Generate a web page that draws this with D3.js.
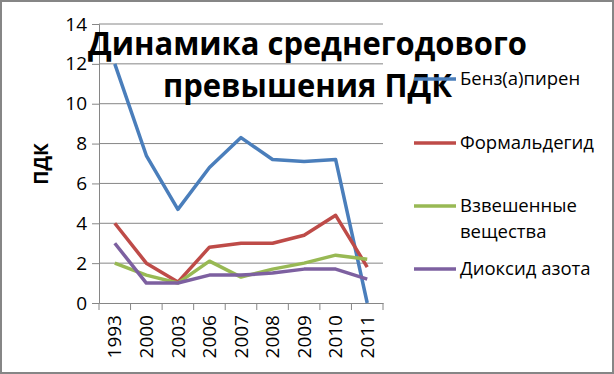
<!DOCTYPE html>
<html>
<head>
<meta charset="utf-8">
<script src="https://cdn.jsdelivr.net/npm/d3@7"></script>
<style>
  html, body { margin: 0; padding: 0; background: #fff; }
  svg { display: block; }
  text { font-family: "Open Sans", "Liberation Sans", sans-serif; }
</style>
</head>
<body>
<div id="chart"></div>
<script>
(function () {
  'use strict';

  var years = ['1993', '2000', '2003', '2006', '2007', '2008', '2009', '2010', '2011'];
  var benzapiren = [12, 7.4, 4.7, 6.8, 8.3, 7.2, 7.1, 7.2, 0];
  var formaldegid = [4, 2, 1.05, 2.8, 3, 3, 3.4, 4.4, 1.8];
  var vzveshennye = [2, 1.4, 1, 2.1, 1.3, 1.7, 2, 2.4, 2.2];
  var dioksid = [3, 1, 1, 1.4, 1.4, 1.5, 1.7, 1.7, 1.2];
  var yTicks = [0, 2, 4, 6, 8, 10, 12, 14];

  var series = [
    { name: ['Бенз(а)пирен'], values: benzapiren, color: '#4a7ebb', ly: 79 },
    { name: ['Формальдегид'], values: formaldegid, color: '#be4b48', ly: 143 },
    { name: ['Взвешенные', 'вещества'], values: vzveshennye, color: '#98b954', ly: 206 },
    { name: ['Диоксид азота'], values: dioksid, color: '#7d60a0', ly: 269 }
  ];

  var W = 614, H = 374;
  var plot = { left: 99, right: 383, top: 24, bottom: 303 };

  var svg = d3.select('#chart')
      .append('svg')
      .attr('width', W)
      .attr('height', H);

  svg.append('rect')
     .attr('x', 1).attr('y', 1)
     .attr('width', W - 2).attr('height', H - 2)
     .attr('fill', '#fff')
     .attr('stroke', '#868686')
     .attr('stroke-width', 2);

  var x = d3.scaleBand().domain(years).range([plot.left, plot.right]);
  var y = d3.scaleLinear().domain([0, 14]).range([plot.bottom, plot.top]);

  // gridlines
  svg.append('g')
     .selectAll('line')
     .data(yTicks.filter(function (d) { return d > 0; }))
     .enter()
     .append('line')
     .attr('x1', plot.left).attr('x2', plot.right)
     .attr('y1', function (d) { return y(d); })
     .attr('y2', function (d) { return y(d); })
     .attr('stroke', '#868686')
     .attr('stroke-width', 1);

  var yAxis = svg.append('g')
     .attr('transform', 'translate(' + plot.left + ',0)')
     .call(d3.axisLeft(y).tickValues(yTicks).tickSize(7).tickPadding(5));

  var xAxis = svg.append('g')
     .attr('transform', 'translate(0,' + plot.bottom + ')')
     .call(d3.axisBottom(x).tickSize(0).tickPadding(0));

  // ticks on band boundaries
  xAxis.selectAll('.tick line').remove();
  xAxis.selectAll('.bound')
     .data(d3.range(years.length + 1))
     .enter()
     .append('line')
     .attr('x1', function (i) { return plot.left + i * x.step(); })
     .attr('x2', function (i) { return plot.left + i * x.step(); })
     .attr('y1', 0).attr('y2', 7)
     .attr('stroke', '#868686');

  xAxis.selectAll('.tick text')
     .attr('transform', 'rotate(-90)')
     .attr('x', -12)
     .attr('y', 0)
     .attr('dy', '0.35em')
     .style('text-anchor', 'end');

  [yAxis, xAxis].forEach(function (a) {
    a.select('.domain').attr('stroke', '#868686');
    a.selectAll('.tick line').attr('stroke', '#868686');
    a.selectAll('.tick text')
     .attr('fill', '#000')
     .style('font-size', '19px')
     .style('font-family', '"Open Sans", sans-serif');
  });

  // y axis title
  svg.append('text')
     .attr('transform', 'translate(48,164) rotate(-90)')
     .attr('text-anchor', 'middle')
     .style('font-size', '19px')
     .style('font-weight', 'bold')
     .text('ПДК');

  var line = d3.line()
     .x(function (d, i) { return x(years[i]) + x.bandwidth() / 2; })
     .y(function (d) { return y(d); });

  svg.append('g')
     .selectAll('path')
     .data(series)
     .enter()
     .append('path')
     .attr('d', function (d) { return line(d.values); })
     .attr('fill', 'none')
     .attr('stroke', function (d) { return d.color; })
     .attr('stroke-width', 3.5)
     .attr('stroke-linejoin', 'round');

  // title
  var title = svg.append('g');
  [['Динамика среднегодового', 55, 439], ['превышения ПДК', 97, 289]].forEach(function (t) {
    title.append('text')
       .attr('x', 307.5)
       .attr('y', t[1])
       .attr('text-anchor', 'middle')
       .attr('textLength', t[2])
       .attr('lengthAdjust', 'spacingAndGlyphs')
       .style('font-size', '33px')
       .style('font-weight', 'bold')
       .text(t[0]);
  });

  // legend
  var legend = svg.append('g')
     .selectAll('g')
     .data(series)
     .enter()
     .append('g')
     .attr('transform', function (d) { return 'translate(414,' + d.ly + ')'; });

  legend.append('line')
     .attr('x1', 0).attr('x2', 42)
     .attr('stroke', function (d) { return d.color; })
     .attr('stroke-width', 3.5);

  legend.append('text')
     .attr('x', 46)
     .style('font-size', '18.5px')
     .selectAll('tspan')
     .data(function (d) { return d.name; })
     .enter()
     .append('tspan')
     .attr('x', 46)
     .attr('dy', function (d, i) { return i === 0 ? '0.35em' : '1.4em'; })
     .text(function (d) { return d; });
}());
</script>
</body>
</html>
